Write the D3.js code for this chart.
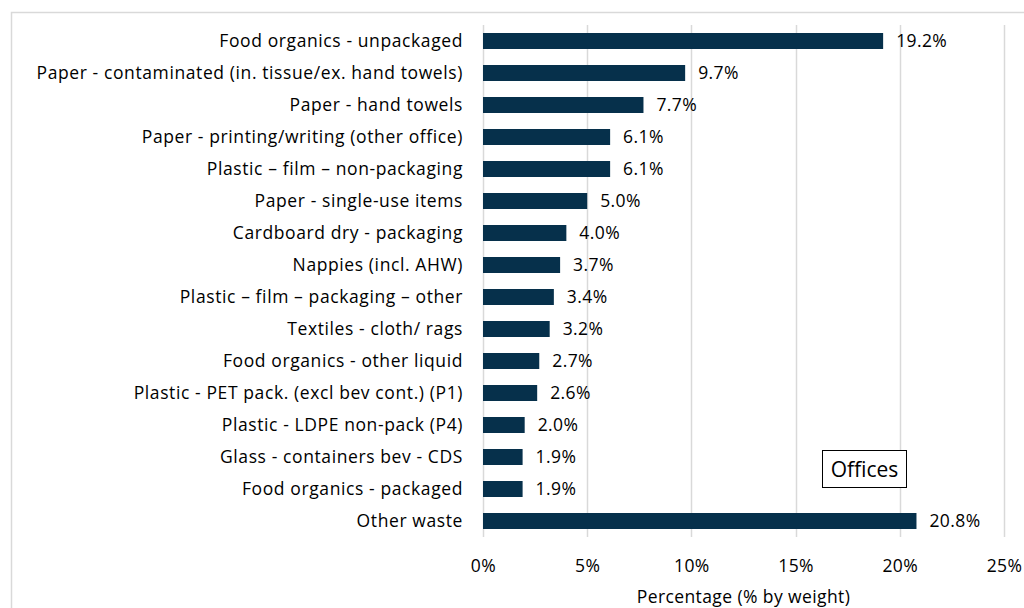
<!DOCTYPE html>
<html>
<head>
<meta charset="utf-8">
<script src="https://cdn.jsdelivr.net/npm/d3@7"></script>
<style>
  html, body { margin: 0; padding: 0; background: #fff; }
  svg { display: block; }
  text { font-family: "Open Sans", Lato, sans-serif; fill: #000; }
</style>
</head>
<body>
<svg id="chart" width="1024" height="608"></svg>
<script>
const categories = [
  "Food organics - unpackaged",
  "Paper - contaminated (in. tissue/ex. hand towels)",
  "Paper - hand towels",
  "Paper - printing/writing (other office)",
  "Plastic \u2013 film \u2013 non-packaging",
  "Paper - single-use items",
  "Cardboard dry - packaging",
  "Nappies (incl. AHW)",
  "Plastic \u2013 film \u2013 packaging \u2013 other",
  "Textiles - cloth/ rags",
  "Food organics - other liquid",
  "Plastic - PET pack. (excl bev cont.) (P1)",
  "Plastic - LDPE non-pack (P4)",
  "Glass - containers bev - CDS",
  "Food organics - packaged",
  "Other waste"
];
const values = [19.2, 9.7, 7.7, 6.1, 6.1, 5.0, 4.0, 3.7, 3.4, 3.2, 2.7, 2.6, 2.0, 1.9, 1.9, 20.8];
const xTicks = [0, 5, 10, 15, 20, 25];
const xTitle = "Percentage (% by weight)";
const boxLabel = "Offices";

const svg = d3.select("#chart");
const barColor = "#06304b";
const fs = 17.5;
const ls = 0.4;

// outer frame
svg.append("rect")
  .attr("x", 11.5).attr("y", 12.5)
  .attr("width", 1030).attr("height", 620)
  .attr("fill", "none").attr("stroke", "#d9d9d9").attr("stroke-width", 1.5);

const x = d3.scaleLinear().domain([0, 25]).range([483, 1004]);
const y = d3.scaleBand().domain(categories).range([25, 537])
  .paddingInner(0.5).paddingOuter(0.25);

// gridlines
svg.append("g").selectAll("line").data(xTicks).join("line")
  .attr("x1", d => Math.round(x(d)) + 0.5).attr("x2", d => Math.round(x(d)) + 0.5)
  .attr("y1", 25).attr("y2", 537)
  .attr("stroke", "#d9d9d9").attr("stroke-width", 1.5);

// bars
svg.append("g").selectAll("rect").data(values).join("rect")
  .attr("x", x(0))
  .attr("y", (d, i) => y(categories[i]))
  .attr("width", d => x(d) - x(0))
  .attr("height", y.bandwidth())
  .attr("fill", barColor);

// value labels
svg.append("g").selectAll("text").data(values).join("text")
  .attr("x", d => x(d) + 13)
  .attr("y", (d, i) => y(categories[i]) + y.bandwidth() / 2)
  .attr("dy", "0.35em")
  .attr("font-size", fs)
  .attr("letter-spacing", ls)
  .text(d => d.toFixed(1) + "%");

// category labels
svg.append("g").selectAll("text").data(categories).join("text")
  .attr("x", 463)
  .attr("y", d => y(d) + y.bandwidth() / 2)
  .attr("dy", "0.35em")
  .attr("text-anchor", "end")
  .attr("font-size", fs)
  .attr("letter-spacing", 0.6)
  .text(d => d);

// x axis
const xAxis = d3.axisBottom(x).tickValues(xTicks).tickFormat(d => d + "%").tickSize(0).tickPadding(0);
const gx = svg.append("g").attr("transform", "translate(0,560)").call(xAxis);
gx.select(".domain").remove();
gx.selectAll("text").attr("font-size", fs).attr("letter-spacing", ls)
  .attr("font-family", "'Open Sans', Lato, sans-serif").attr("fill", "#000");

svg.append("text")
  .attr("x", (x(0) + x(25)) / 2).attr("y", 597)
  .attr("dy", "0.35em")
  .attr("text-anchor", "middle")
  .attr("font-size", fs)
  .attr("letter-spacing", ls)
  .text(xTitle);

// Offices box
const bx = 822, by = 450.5;
svg.append("rect").attr("x", bx + 0.5).attr("y", by).attr("width", 84).attr("height", 37)
  .attr("fill", "#fff").attr("stroke", "#000").attr("stroke-width", 1);
svg.append("text").attr("x", bx + 42.5).attr("y", by + 19).attr("dy", "0.35em")
  .attr("text-anchor", "middle").attr("font-size", 21).text(boxLabel);
</script>
</body>
</html>
